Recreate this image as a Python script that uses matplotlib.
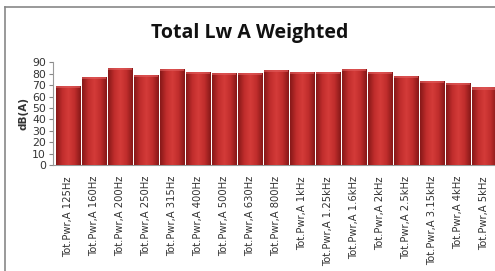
import matplotlib
matplotlib.use("Agg")
import matplotlib.pyplot as plt
import numpy as np
from matplotlib.colors import LinearSegmentedColormap
from matplotlib.lines import Line2D

categories = ["Tot.Pwr,A 125Hz", "Tot.Pwr,A 160Hz", "Tot.Pwr,A 200Hz", "Tot.Pwr,A 250Hz",
              "Tot.Pwr,A 315Hz", "Tot.Pwr,A 400Hz", "Tot.Pwr,A 500Hz", "Tot.Pwr,A 630Hz",
              "Tot.Pwr,A 800Hz", "Tot.Pwr,A 1kHz", "Tot.Pwr,A 1.25kHz", "Tot.Pwr,A 1.6kHz",
              "Tot.Pwr,A 2kHz", "Tot.Pwr,A 2.5kHz", "Tot.Pwr,A 3.15kHz", "Tot.Pwr,A 4kHz",
              "Tot.Pwr,A 5kHz"]
values = [69, 77, 85, 79, 84, 82, 81, 81, 83.5, 82, 82, 84, 82, 78, 74, 72, 68]
yticks = [0, 10, 20, 30, 40, 50, 60, 70, 80, 90]

W, H = 495, 271
fig = plt.figure(figsize=(W/100, H/100), dpi=100)
ax = fig.add_axes([53/W, 1-165/H, 442/W, (165-62.4)/H])

x = np.arange(len(categories))
bars = ax.bar(x, values, width=0.93, color='#c4302f', edgecolor='#7a1515', linewidth=0.7, zorder=2)

cmap = LinearSegmentedColormap.from_list('g', ['#861818', '#c02d2c', '#d43b39', '#c02d2c', '#861818'])
grad = np.linspace(0, 1, 64).reshape(1, -1)
for b in bars:
    bx, by, bw, bh = b.get_x(), b.get_y(), b.get_width(), b.get_height()
    im = ax.imshow(grad, cmap=cmap, extent=(bx, bx+bw, by, by+bh), aspect='auto', zorder=3)
    im.set_clip_path(b)
    ax.fill_between([bx, bx+bw], by+bh-1.8, by+bh, color='#e26060', alpha=0.6, zorder=4, linewidth=0)

ax.set_xlim(-0.58, 16.42)
ax.set_ylim(0, 90)
ax.set_yticks(yticks)
ax.set_xticks(x)
ax.set_xticklabels(categories, rotation=90, fontsize=7.2, color='#333333', family='DejaVu Sans')
ax.tick_params(axis='x', length=0, pad=8)
ax.tick_params(axis='y', length=3, color='#888888', labelsize=7.8, labelcolor='#333333', pad=2)
for s in ['top', 'right']:
    ax.spines[s].set_visible(False)
ax.spines['left'].set_color('#999999')
ax.spines['bottom'].set_color('#999999')
ax.set_ylabel('dB(A)', fontsize=7.5, fontweight='bold', color='#333333', labelpad=3)

fig.text(250/W, 1-33/H, 'Total Lw A Weighted', ha='center', va='center',
         fontsize=14, fontweight='bold', family='Open Sans', color='#111111')

fig.add_artist(Line2D([5/W, 5/W], [0, 1-7/H], color='#888888', lw=1.2))
fig.add_artist(Line2D([5/W, 1], [1-7/H, 1-7/H], color='#888888', lw=1.2))

fig.savefig('out.png', dpi=100)
